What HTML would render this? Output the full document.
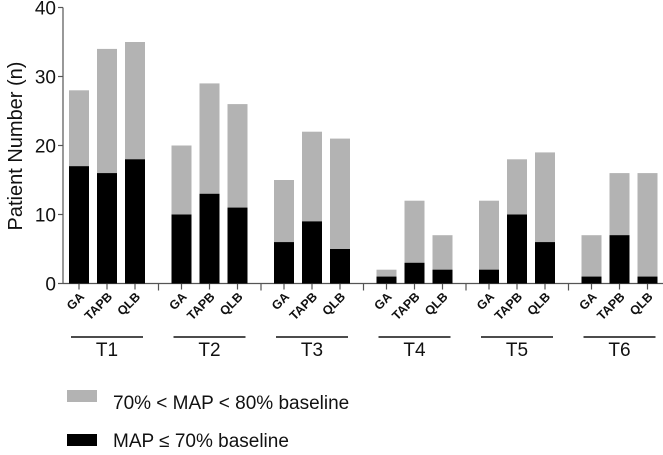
<!DOCTYPE html>
<html><head><meta charset="utf-8"><style>
body{margin:0;background:#fff;width:663px;height:450px;overflow:hidden;font-family:"Liberation Sans",sans-serif}
</style></head><body>
<svg id="chart" width="663" height="450" xmlns="http://www.w3.org/2000/svg"></svg>
<script>
const groups=["T1","T2","T3","T4","T5","T6"];
const methods=["GA","TAPB","QLB"];
const totalValues=[[28,34,35],[20,29,26],[15,22,21],[2,12,7],[12,18,19],[7,16,16]];
const severeValues=[[17,16,18],[10,13,11],[6,9,5],[1,3,2],[2,10,6],[1,7,1]];
const yTicks=[0,10,20,30,40];
const NS="http://www.w3.org/2000/svg";
const svg=document.getElementById("chart");
const y0=283.5,pxPer=6.9,x0=63;
function yS(v){return y0-v*pxPer;}
function xS(g,i){return 79+102.5*g+28*i;}
function mk(t,a,txt){const e=document.createElementNS(NS,t);for(const k in a)e.setAttribute(k,a[k]);if(txt!==undefined)e.textContent=txt;svg.appendChild(e);return e;}
let e=mk("line",{x1:x0,y1:yS(40),x2:x0,y2:y0,stroke:"#555","stroke-width":1.2});


yTicks.forEach(v=>{
 let t=mk("line",{x1:x0-5,y1:yS(v),x2:x0,y2:yS(v),stroke:"#555","stroke-width":1.2});
 
 
 let l=mk("text",{x:x0-7,y:yS(v)+7,"text-anchor":"end","font-size":19,fill:"#111"},v);
 
 
});
e=mk("text",{transform:"translate(22,146) rotate(-90)","text-anchor":"middle","font-size":20,fill:"#111"},"Patient Number (n)");


e=mk("line",{x1:x0,y1:y0,x2:663,y2:y0,stroke:"#555","stroke-width":1.2});


groups.forEach((g,gi)=>{
 if(gi>0){let s=mk("line",{x1:xS(gi,0)-23,y1:y0,x2:xS(gi,0)-23,y2:y0+7,stroke:"#555","stroke-width":1.2});
  
  }
 methods.forEach((m,i)=>{
  const cx=xS(gi,i);
  let r=mk("rect",{x:cx-10,y:yS(totalValues[gi][i]),width:20,height:totalValues[gi][i]*pxPer,fill:"#b3b3b3"});
  
  
  let b=mk("rect",{x:cx-10,y:yS(severeValues[gi][i]),width:20,height:severeValues[gi][i]*pxPer,fill:"#000"});
  
  
  let t=mk("line",{x1:cx,y1:y0,x2:cx,y2:y0+6,stroke:"#555","stroke-width":1.2});
  
  
  let l=mk("text",{transform:`translate(${cx+6},${y0+14}) rotate(-45)`,"text-anchor":"end","font-size":12.5,"font-weight":"bold",fill:"#111"},m);
  
  
 });
 const c=xS(gi,1);
 let u=mk("line",{x1:c-36,y1:337,x2:c+36,y2:337,stroke:"#111","stroke-width":1.5});
 
 
 let gl=mk("text",{x:c,y:356,"text-anchor":"middle","font-size":19,fill:"#111"},g);
 
 
});
e=mk("rect",{x:67,y:390,width:30,height:12,fill:"#b3b3b3"});


e=mk("text",{x:113,y:409,"font-size":19,fill:"#111"},"70% < MAP < 80% baseline");


e=mk("rect",{x:67,y:434,width:30,height:12,fill:"#000"});


e=mk("text",{x:113,y:447,"font-size":19,fill:"#111"},"MAP ≤ 70% baseline");


</script>
</body></html>
